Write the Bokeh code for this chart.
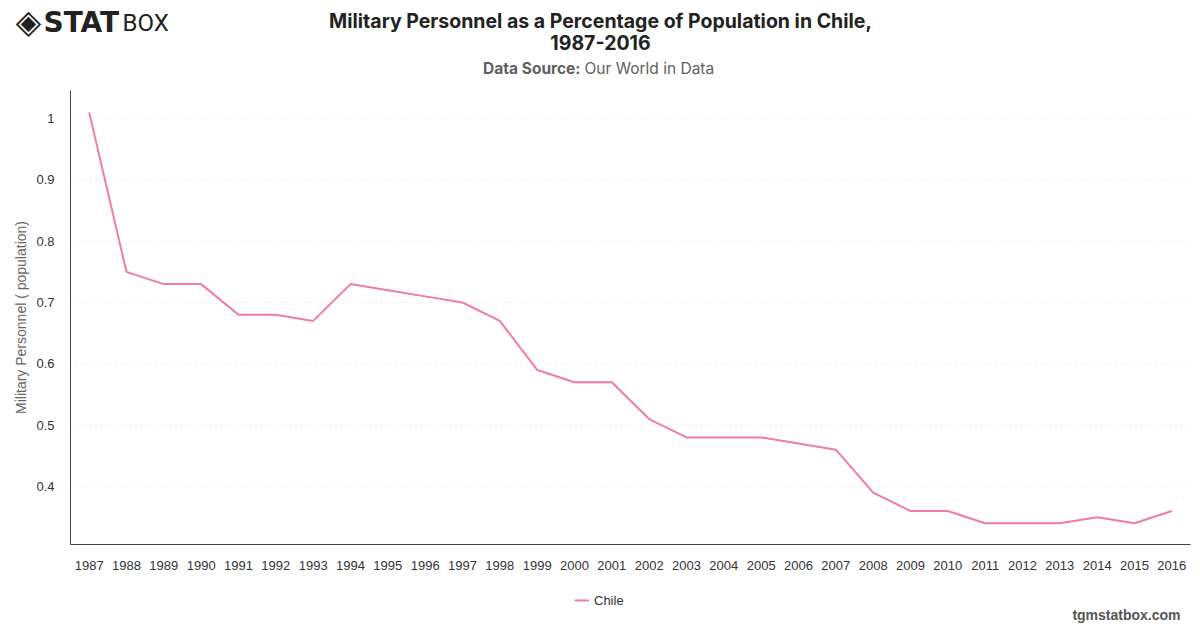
from bokeh.plotting import figure
from bokeh.models import Range1d, FixedTicker, Label, Legend, LegendItem
from bokeh.embed import file_html
from bokeh.resources import INLINE

# Military personnel as % of population, Chile
years = list(range(1987, 2017))
values = [1.01, 0.75, 0.73, 0.73, 0.68, 0.68, 0.67, 0.73, 0.72, 0.71,
          0.70, 0.67, 0.59, 0.57, 0.57, 0.51, 0.48, 0.48, 0.48, 0.47,
          0.46, 0.39, 0.36, 0.36, 0.34, 0.34, 0.34, 0.35, 0.34, 0.36]
y_ticks = [0.4, 0.5, 0.6, 0.7, 0.8, 0.9, 1.0]
y_tick_labels = ["0.4", "0.5", "0.6", "0.7", "0.8", "0.9", "1"]

TICK_FONT = "Liberation Sans"
TITLE_FONT = "Inter"
LINE_COLOR = "#f07aa9"
W, H = 1200, 628

# plotting area inside the canvas (pixels) and the data extent it shows
AREA_L, AREA_R, AREA_T, AREA_B = 70, 1190, 90, 544
X0, X1 = years[0] - 0.5, years[-1] + 0.5
Y0, Y1 = 0.3054, 1.0457

# the frame fills the whole canvas; ranges are widened so that the data
# extent lands on the plotting area and the text around it stays visible
dx = (X1 - X0) / (AREA_R - AREA_L)
dy = (Y1 - Y0) / (AREA_B - AREA_T)
x_range = Range1d(X0 - AREA_L * dx, X1 + (W - AREA_R) * dx)
y_range = Range1d(Y0 - (H - AREA_B) * dy, Y1 + AREA_T * dy)

p = figure(width=W, height=H, output_backend="svg", toolbar_location=None,
           x_range=x_range, y_range=y_range, min_border=0,
           outline_line_color=None)
p.grid.visible = False

# dotted horizontal guide lines at the y ticks
p.segment(x0=X0, x1=X1, y0=y_ticks, y1=y_ticks, line_color="#dddddd",
          line_width=1, line_dash="1 4")

line = p.line(years, values, line_color=LINE_COLOR, line_width=2)

for ax in (p.xaxis, p.yaxis):
    ax.axis_line_color = "#444444"
    ax.axis_line_width = 1
    ax.major_tick_line_color = None
    ax.minor_tick_line_color = None
    ax.major_label_text_font = TICK_FONT
    ax.major_label_text_font_size = "13px"
    ax.major_label_text_color = "#333333"

p.xaxis.fixed_location = Y0
p.xaxis.bounds = (X0, X1)
p.xaxis.ticker = FixedTicker(ticks=years)
p.xaxis.major_label_standoff = 10

p.yaxis.fixed_location = X0
p.yaxis.bounds = (Y0, Y1)
p.yaxis.ticker = FixedTicker(ticks=y_ticks)
p.yaxis.major_label_overrides = {t: s for t, s in zip(y_ticks, y_tick_labels)}
p.yaxis.major_label_standoff = 10
p.yaxis.axis_label = "Military Personnel ( population)"
p.yaxis.axis_label_text_font = TICK_FONT
p.yaxis.axis_label_text_font_style = "normal"
p.yaxis.axis_label_text_font_size = "14px"
p.yaxis.axis_label_text_color = "#666666"
p.yaxis.axis_label_standoff = 4

legend = Legend(items=[LegendItem(label="Chile", renderers=[line])],
                location=(574, 18), orientation="horizontal",
                border_line_color=None, background_fill_alpha=0,
                label_text_font=TICK_FONT, label_text_font_size="13px",
                label_text_color="#333333", glyph_width=15, padding=2,
                margin=0)
p.add_layout(legend)


def add_text(text, X, Y, size, color="#222222", style="normal",
             align="center", font=TITLE_FONT):
    # X, Y: canvas pixels from the top-left corner
    p.add_layout(Label(x=X, y=H - Y, x_units="screen", y_units="screen",
                       text=text, text_font=font, text_font_size=size,
                       text_color=color, text_font_style=style,
                       text_align=align, text_baseline="middle"))


add_text("Military Personnel as a Percentage of Population in Chile,",
         600, 20, "19.5px", style="bold")
add_text("1987-2016", 600, 42, "19.5px", style="bold")
add_text("Data Source:", 580, 68, "15.5px", color="#606060", style="bold",
         align="right")
add_text("Our World in Data", 584, 68, "15.5px", color="#606060",
         align="left")
add_text("tgmstatbox.com", 1180, 614, "14px", color="#555555", style="bold",
         align="right", font=TICK_FONT)

# logo
add_text("\u25c8", 28, 21, "33px", font="DejaVu Sans")
add_text("STAT", 43, 22, "28px", style="bold", align="left",
         font="DejaVu Sans")
add_text("BOX", 122, 22, "24px", align="left", font="Roboto")

open("out.html", "w").write(file_html(p, INLINE))
